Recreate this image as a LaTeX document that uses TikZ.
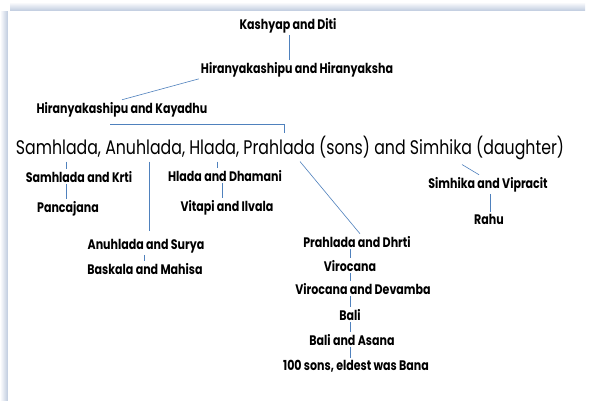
\documentclass[tikz,border=0pt]{standalone}
\usepackage{fontspec}
\setmainfont{Poppins}[FakeStretch=0.8]
\definecolor{rama}{RGB}{79,129,189}
\definecolor{sombra}{RGB}{190,202,222}
\tikzset{
  nombre/.style={anchor=base, inner sep=2pt, font=\fontsize{13.8}{16}\selectfont\bfseries},
  grande/.style={anchor=base, inner sep=2pt, font=\fontsize{19.7}{22}\selectfont},
  linea/.style={draw=rama, line width=0.6pt}
}
\begin{document}
\begin{tikzpicture}[x=1pt,y=-1pt]
            \useasboundingbox (0,0) rectangle (595,408); % Marco de la imagen

            % Sombra del panel
            \shade[top color=white, bottom color=sombra] (10,2) rectangle (585,11); % Sombra superior
            \shade[left color=white, right color=sombra] (0,11) rectangle (8,400); % Sombra izquierda
            \fill[white] (8,11) rectangle (595,408); % Panel blanco

            % Generaciones superiores
            \node[nombre] (kd) at (288,29) {Kashyap and Diti}; % Pareja inicial
            \node[nombre] (hh) at (297,73) {Hiranyakashipu and Hiranyaksha}; % Hijos
            \node[nombre] (hk) at (122,113) {Hiranyakashipu and Kayadhu}; % Matrimonio
            \node[grande] (hij) at (290,154) {Samhlada, Anuhlada, Hlada, Prahlada (sons) and Simhika (daughter)}; % Hijos de Kayadhu

            % Ramas de los hijos
            \node[nombre] (sk) at (79,182) {Samhlada and Krti};
            \node[nombre] (pj) at (68,212) {Pancajana};
            \node[nombre] (hd) at (225,181) {Hlada and Dhamani};
            \node[nombre] (vi) at (227,211) {Vitapi and Ilvala};
            \node[nombre] (sv) at (488,188) {Simhika and Vipracit};
            \node[nombre] (rh) at (489,224) {Rahu};
            \node[nombre] (as) at (146,249) {Anuhlada and Surya};
            \node[nombre] (bm) at (145,274) {Baskala and Mahisa};

            % Linea de Prahlada
            \node[nombre] (pd) at (357,247) {Prahlada and Dhrti};
            \node[nombre] (vc) at (350,271) {Virocana};
            \node[nombre] (vd) at (363,294) {Virocana and Devamba};
            \node[nombre] (bl) at (350,320) {Bali};
            \node[nombre] (ba) at (352,345) {Bali and Asana};
            \node[nombre] (cb) at (356,370) {100 sons, eldest was Bana};

            % Conexiones superiores
            \draw[linea] (kd.south -| 289,0) -- (hh.north -| 289,0); % Kashyap a sus hijos
            \draw[linea] (hh.south west) -- (hk.north); % Hiranyakashipu a Kayadhu
            \coordinate (barra) at (110,124); % Inicio de la barra
            \draw[linea] (barra) -- (barra -| 284,0) -- (hij.north -| 284,0); % Barra hacia los hijos

            % Conexiones de los hijos
            \draw[linea] (hij.south -| 66,0) -- (sk.north -| 66,0); % Samhlada
            \draw[linea] (hij.south -| 149,0) -- ([yshift=6pt]as.north -| 149,0); % Anuhlada
            \draw[linea] (hij.south -| 217,0) -- (hd.north -| 217,0); % Hlada
            \draw[linea] (hij.south -| 300,0) -- (pd.north -| 360,0); % Prahlada
            \draw[linea] ([yshift=-3pt]hij.south -| 462,0) -- (sv.north -| 479,0); % Simhika
            \draw[linea] (sk.south -| 66,0) -- (pj.north -| 66,0); % Pancajana
            \draw[linea] (hd.south -| 222,0) -- (vi.north -| 222,0); % Vitapi e Ilvala
            \draw[linea] (sv.south -| 490,0) -- (rh.north -| 490,0); % Rahu
            \draw[linea] (as.south -| 144,0) -- (bm.north -| 144,0); % Baskala y Mahisa

            % Cadena de Prahlada
            \draw[linea] (pd.south -| 350,0) -- (vc.north -| 350,0);
            \draw[linea] (vc.south -| 350,0) -- (vd.north -| 350,0);
            \draw[linea] (vd.south -| 350,0) -- (bl.north -| 350,0);
            \draw[linea] (bl.south -| 350,0) -- (ba.north -| 350,0);
            \draw[linea] (ba.south -| 350,0) -- (cb.north -| 350,0);
        \end{tikzpicture}
\end{document}
